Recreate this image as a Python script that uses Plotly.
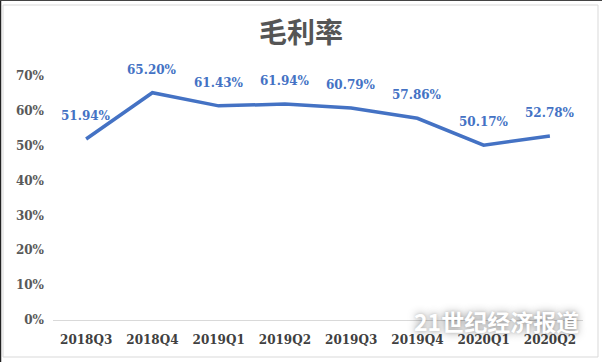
import plotly.graph_objects as go

quarters = ["2018Q3", "2018Q4", "2019Q1", "2019Q2", "2019Q3", "2019Q4", "2020Q1", "2020Q2"]
gross_margin = [0.5194, 0.6520, 0.6143, 0.6194, 0.6079, 0.5786, 0.5017, 0.5278]
y_ticks = [0, 0.1, 0.2, 0.3, 0.4, 0.5, 0.6, 0.7]
y_tick_labels = ["0%", "10%", "20%", "30%", "40%", "50%", "60%", "70%"]
title_text = "毛利率"
watermark = "21世纪经济报道"

BLUE = "#4472C4"
SERIF = "DejaVu Serif"

fig = go.Figure()
fig.add_trace(go.Scatter(
    x=quarters, y=gross_margin, mode="lines",
    line=dict(color=BLUE, width=3.5), hoverinfo="skip", showlegend=False,
))

annotations = []
for q, v in zip(quarters, gross_margin):
    annotations.append(dict(
        x=q, y=v, xref="x", yref="y", text=f"{v*100:.2f}%", showarrow=False,
        yshift=23, font=dict(family=SERIF, size=12, color=BLUE, weight="bold"),
    ))
annotations.append(dict(
    x=0.837, y=-0.005, xref="paper", yref="paper", text=watermark, showarrow=False,
    xanchor="center", yanchor="middle",
    font=dict(family="Noto Sans CJK SC", size=23, color="white", weight="bold",
              shadow="0px 0px 9px rgba(0,0,0,0.45), 0px 0px 3px rgba(0,0,0,0.15)"),
))

fig.update_layout(
    width=602, height=362,
    margin=dict(l=53, r=19, t=76, b=42),
    paper_bgcolor="white", plot_bgcolor="white",
    title=dict(text=title_text, x=0.5, xanchor="center", y=1 - 33/362, yanchor="middle",
               font=dict(family="Noto Sans CJK SC", size=28, color="#555555", weight="bold")),
    xaxis=dict(type="category", range=[-0.5, len(quarters) - 0.5], showgrid=False,
               showline=True, linecolor="#d9d9d9", linewidth=1, ticks="",
               ticklabelstandoff=9,
               tickfont=dict(family=SERIF, size=12, color="#404040", weight="bold")),
    yaxis=dict(range=[0, 0.7], tickvals=y_ticks, ticktext=y_tick_labels, showgrid=False,
               zeroline=False, showline=False, ticks="", ticklabelstandoff=8,
               tickfont=dict(family=SERIF, size=12, color="#595959", weight="bold")),
    annotations=annotations,
    shapes=[
        dict(type="rect", xref="paper", yref="paper", x0=-50/530, x1=1 + 15/530,
             y0=-37/244, y1=1 + 71/244, line=dict(color="#d9d9d9", width=1)),
        dict(type="line", xref="paper", yref="paper", x0=-52.5/530, x1=-52.5/530,
             y0=-42/244, y1=1 + 76/244, line=dict(color="#222222", width=1.5)),
        dict(type="line", xref="paper", yref="paper", x0=-53/530, x1=1 + 19/530,
             y0=1 + 75.5/244, y1=1 + 75.5/244, line=dict(color="#444444", width=1)),
    ],
)

fig.write_html("out.html", config={"displayModeBar": False},
               post_script="document.body.style.margin='0';document.body.style.overflow='hidden';")
